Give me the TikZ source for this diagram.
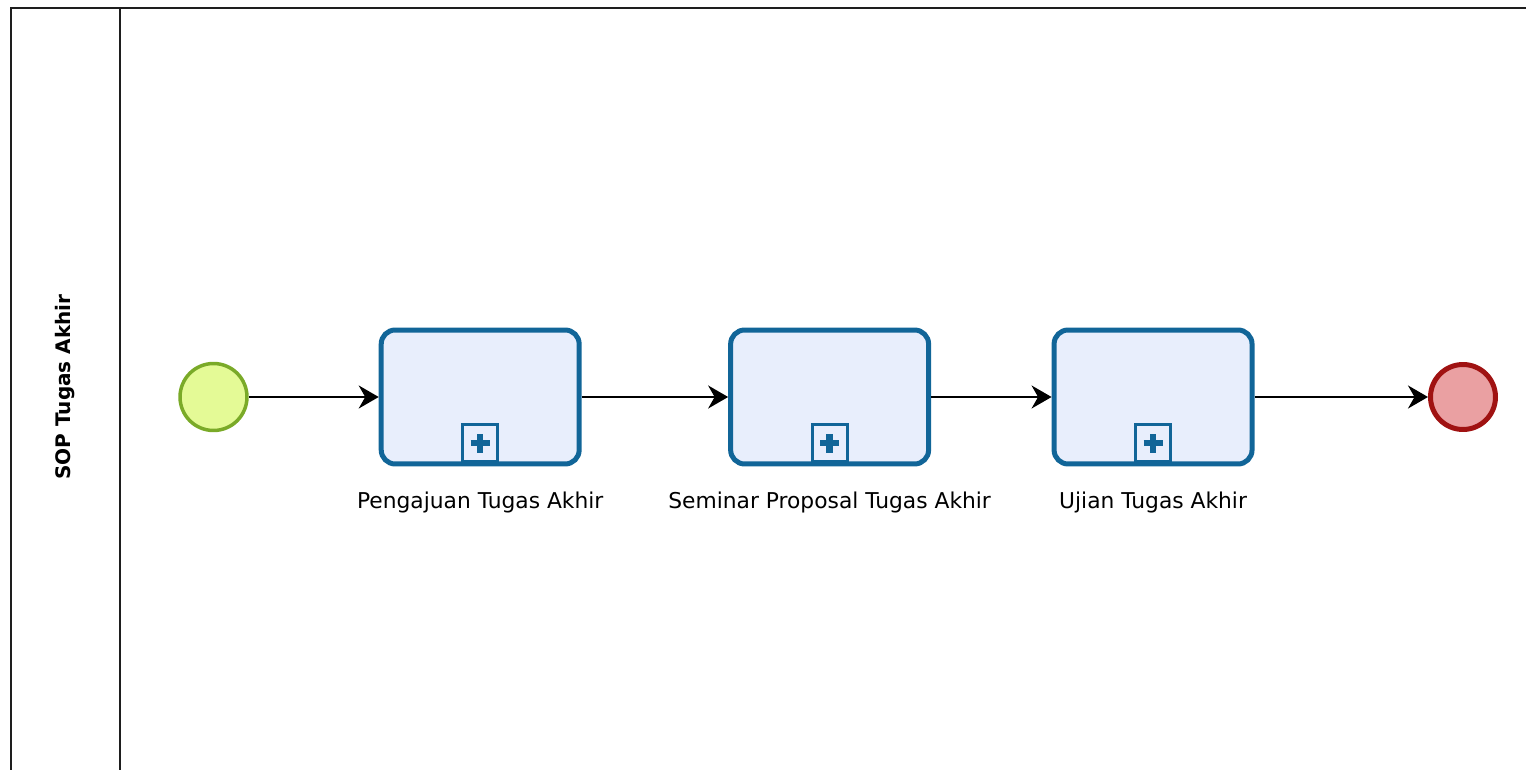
\documentclass[tikz,border=0pt]{standalone}
\usepackage{fontspec}
\setmainfont{DejaVu Sans}
\usepackage{xcolor}
\usetikzlibrary{arrows.meta, positioning}
\definecolor{bpmnblue}{RGB}{17, 101, 152}
\definecolor{taskfill}{RGB}{232, 238, 252}
\definecolor{startfill}{RGB}{228, 250, 150}
\definecolor{startborder}{RGB}{122, 170, 40}
\definecolor{endfill}{RGB}{234, 160, 162}
\definecolor{endborder}{RGB}{160, 18, 18}
\definecolor{poolline}{RGB}{30, 30, 30}

\begin{document}
\begin{tikzpicture}[
			x=0.02cm, y=-0.02cm,
			>=Stealth,
			node distance=2.6cm,
			font=\fontsize{12.4}{14}\selectfont,
			% BPMN node styles
			startevent/.style={
				draw=startborder, fill=startfill, circle,
				minimum size=1.34cm, inner sep=0pt,
				line width=0.07cm
			},
			endevent/.style={
				draw=endborder, fill=endfill, circle,
				minimum size=1.3cm, inner sep=0pt,
				line width=0.1cm
			},
			subprocess/.style={
				draw=bpmnblue, fill=taskfill, rectangle,
				rounded corners=0.28cm,
				minimum width=3.96cm, minimum height=2.68cm,
				line width=0.1cm
			},
			collapsed/.style={
				draw=bpmnblue, fill=taskfill, rectangle,
				minimum width=0.7cm, minimum height=0.75cm,
				inner sep=0pt, line width=0.06cm,
				path picture={
					\draw[bpmnblue, line width=0.13cm]
						([xshift=-0.19cm]path picture bounding box.center)
						-- ([xshift=0.19cm]path picture bounding box.center);
					\draw[bpmnblue, line width=0.13cm]
						([yshift=-0.19cm]path picture bounding box.center)
						-- ([yshift=0.19cm]path picture bounding box.center);
				}
			},
			tasklabel/.style={inner sep=0pt, text height=9pt, text depth=3pt},
			lanelabel/.style={rotate=90, font=\fontsize{11.4}{13}\selectfont\bfseries},
			arrow/.style={->, >={Stealth[length=0.4cm, width=0.46cm]}, line width=0.045cm, black},
			pool/.style={draw=poolline, line width=0.05cm}
		]
		\useasboundingbox (0,0) rectangle (1526,770);

		% Pool and lane header
		\draw[pool] (1526,8) -- (11,8) -- (11,770);
		\draw[pool] (120,8) -- (120,770);
		\node[lanelabel] (lane) at (65,387) {SOP Tugas Akhir};

		% Nodes (left to right)
		\node[startevent] (start) at (213.5,397) {};
		\node[subprocess, right=2.6cm of start] (pengajuan) {};
		\node[subprocess, right=2.93cm of pengajuan] (seminar) {};
		\node[subprocess, right=2.41cm of seminar] (ujian) {};
		\node[endevent, right=3.47cm of ujian] (end) {};

		% Collapsed sub-process markers
		\node[collapsed, anchor=south] (pengajuan-marker) at ([yshift=0.06cm]pengajuan.south) {};
		\node[collapsed, anchor=south] (seminar-marker) at ([yshift=0.06cm]seminar.south) {};
		\node[collapsed, anchor=south] (ujian-marker) at ([yshift=0.06cm]ujian.south) {};

		% Labels
		\node[tasklabel, below=0.51cm of pengajuan] (pengajuan-label) {Pengajuan Tugas Akhir};
		\node[tasklabel, below=0.51cm of seminar] (seminar-label) {Seminar Proposal Tugas Akhir};
		\node[tasklabel, below=0.51cm of ujian] (ujian-label) {Ujian Tugas Akhir};

		% Sequence flows
		\draw[arrow] (start)     -- (pengajuan);
		\draw[arrow] (pengajuan) -- (seminar);
		\draw[arrow] (seminar)   -- (ujian);
		\draw[arrow] (ujian)     -- (end);

		\end{tikzpicture}
\end{document}
